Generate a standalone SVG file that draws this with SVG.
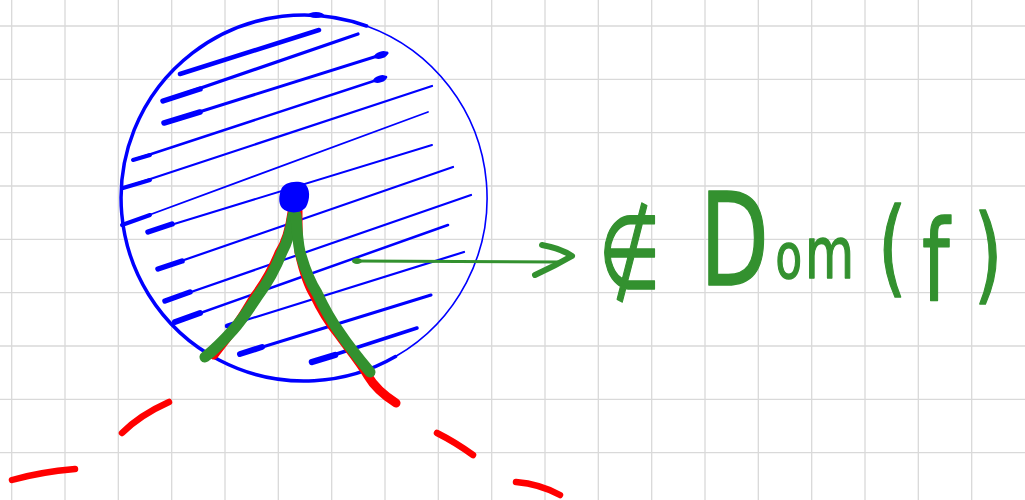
<svg xmlns="http://www.w3.org/2000/svg" width="1025" height="500" viewBox="0 0 1025 500">
<style>
.grid{stroke:#d9d9d9;stroke-width:1.3;fill:none}
.bl{stroke:#0000ff;fill:none;stroke-linecap:round;stroke-linejoin:round}
.rd{stroke:#ff0000;fill:none;stroke-linecap:round;stroke-linejoin:round}
.gr{stroke:#33912f;fill:none;stroke-linecap:round;stroke-linejoin:round}
.lbl{font-family:"DejaVu Sans","Liberation Sans",sans-serif;fill:#33912f;stroke:#33912f;stroke-width:1.5;stroke-linejoin:round}
</style>
<rect width="1025" height="500" fill="#ffffff"/>
<g id="grid">
<path class="grid" d="M11.7 0V500M65 0V500M118.3 0V500M171.7 0V500M225 0V500M278.3 0V500M331.7 0V500M385 0V500M438.3 0V500M491.7 0V500M545 0V500M598.3 0V500M651.7 0V500M705 0V500M758.3 0V500M811.7 0V500M865 0V500M918.3 0V500M971.7 0V500"/>
<path class="grid" d="M0 26H1025M0 79.3H1025M0 132.7H1025M0 186H1025M0 239.3H1025M0 292.7H1025M0 346H1025M0 399.3H1025M0 452.7H1025"/>
</g>
<g id="region">
<path class="bl" stroke-width="3.5" d="M395.5 356.5A183 183 0 1 1 366.6 26"/>
<path class="bl" stroke-width="1.6" d="M366.6 26A183 183 0 0 1 395.5 356.5"/>
<ellipse cx="316" cy="15" rx="8" ry="3" fill="#0000ff"/>
<path class="bl" stroke-width="4.5" d="M180 74L319 30"/>
<path class="bl" stroke-width="3.2" d="M163 101L358 34"/>
<path class="bl" stroke-width="5.5" d="M163 101L200 89"/>
<path class="bl" stroke-width="3" d="M164 123L387 53"/>
<path class="bl" stroke-width="5.5" d="M164 123L200 112"/>
<ellipse cx="381" cy="55" rx="7" ry="3.5" fill="#0000ff" transform="rotate(-17 381 55)"/>
<path class="bl" stroke-width="2.5" d="M133 160L386 77"/>
<path class="bl" stroke-width="4" d="M133 160L150 155"/>
<ellipse cx="380" cy="79" rx="7" ry="3.5" fill="#0000ff" transform="rotate(-17 380 79)"/>
<path class="bl" stroke-width="2.2" d="M123 188L432 86"/>
<path class="bl" stroke-width="4" d="M123 188L150 180"/>
<path class="bl" stroke-width="1.8" d="M122 225L428 112"/>
<path class="bl" stroke-width="4" d="M122 225L150 215"/>
<path class="bl" stroke-width="2" d="M148 232L432 145"/>
<path class="bl" stroke-width="5.5" d="M148 232L172 224"/>
<path class="bl" stroke-width="2.2" d="M158 269L453 167"/>
<path class="bl" stroke-width="5.5" d="M158 269L182 261"/>
<path class="bl" stroke-width="2.2" d="M165 301L471 195"/>
<path class="bl" stroke-width="5.5" d="M165 301L190 292"/>
<path class="bl" stroke-width="2.5" d="M175 322L448 225"/>
<path class="bl" stroke-width="6" d="M175 322L200 313"/>
<path class="bl" stroke-width="2.2" d="M227 326L464 252"/>
<path class="bl" stroke-width="4.5" d="M227 326L245 320"/>
<path class="bl" stroke-width="3" d="M240 354L431 295"/>
<path class="bl" stroke-width="6" d="M240 354L262 347"/>
<path class="bl" stroke-width="3.5" d="M312 362L417 328"/>
<path class="bl" stroke-width="6.5" d="M312 362L335 355"/>
</g>
<g id="curve">
<path class="rd" stroke-width="6.5" d="M12 480Q40 472 75 469"/>
<path class="rd" stroke-width="6.5" d="M122 433Q140 415 169 402"/>
<path class="rd" stroke-width="9" d="M292 212C289 235 284 245 279 253C272 270 263 285 254 297C247 309 240 320 233 330C226 340 219 348 214 355"/>
<path class="rd" stroke-width="9" d="M298 211C298 232 298 243 299 252C303 270 307 284 314 295C322 312 330 324 338 334C348 348 360 362 368 376C375 388 385 396 396 403"/>
<path class="rd" stroke-width="6.5" d="M437 433Q455 442 473 455"/>
<path class="rd" stroke-width="6.5" d="M516 482Q540 484 560 495"/>
<path class="gr" stroke-width="11" d="M293 215C290 235 286 245 282 252C275 270 266 285 257 297C249 309 242 320 233 330C224 340 214 350 205 357"/>
<path class="gr" stroke-width="11" d="M296 215C297 232 298 243 300 252C305 270 310 282 317 293C325 310 332 322 340 333C350 348 360 360 370 372"/>
</g>
<g id="point">
<path d="M281 190C283 182 296 180 304 183C311 188 310 200 306 207C301 214 288 214 282 208C278 203 279 195 281 190Z" fill="#0000ff"/>
</g>
<g id="connectors">
<path class="gr" stroke-width="3.2" d="M355 261L560 262"/>
<ellipse cx="357" cy="261" rx="5" ry="3" fill="#33912f"/>
<path class="gr" stroke-width="6" d="M542 245Q560 248 572 256Q555 266 535 275"/>
</g>
<g id="label">
<text class="lbl" transform="scale(0.7 1)"><tspan x="855" y="288" font-size="102">∉ </tspan><tspan x="1000" y="285" font-size="128">D</tspan><tspan x="1108" y="278" font-size="62">o</tspan><tspan x="1150" y="278" font-size="72">m</tspan><tspan x="1254" y="283" font-size="106">(</tspan><tspan x="1317" y="300" font-size="112">f</tspan><tspan x="1391" y="290" font-size="106">)</tspan></text>
</g>
</svg>
